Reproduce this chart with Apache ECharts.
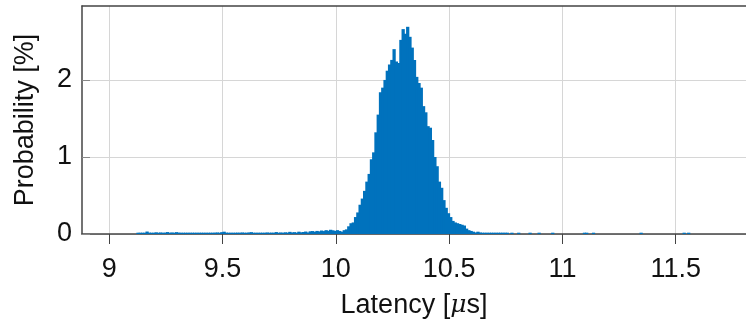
<!DOCTYPE html>
<html>
<head>
<meta charset="utf-8">
<script src="https://cdn.jsdelivr.net/npm/echarts@6/dist/echarts.min.js"></script>
<style>
  html, body { margin: 0; padding: 0; background: #fff; }
  #main { width: 746px; height: 321px; }
</style>
</head>
<body>
<div id="main"></div>
<script>
// histogram bins: left edge of first bin and bin width, in microseconds
const binStart = 9.10;
const binWidth = 0.01;

// probability [%] per bin, 9.10 .. 9.99
const probLow = [
  0, 0, .008, .01, .005, .012, .032, .018, .006, .01,
  .022, .015, .02, .008, .018, .025, .012, .02, .016, .024,
  .018, .01, .006, .004, .008, .01, .006, .012, .008, .01,
  .012, .008, .016, .01, .014, .012, .018, .02, .015, .024,
  .03, .018, .012, .016, .014, .01, .018, .012, .02, .01,
  .015, .02, .024, .016, .012, .008, .01, .014, .012, .02,
  .014, .018, .012, .025, .016, .02, .015, .022, .018, .028,
  .02, .024, .018, .03, .022, .026, .032, .02, .035, .038,
  .03, .04, .034, .045, .038, .05, .042, .055, .048, .04
];
// 10.00 .. 10.64
const probPeak = [
  .05, .04, .03, .05, .06, .10, .14, .15, .22, .28,
  .38, .46, .56, .68, .78, .97, 1.06, 1.32, 1.55, 1.84,
  1.90, 2.00, 2.12, 2.20, 2.26, 2.40, 2.24, 2.22, 2.52, 2.66,
  2.60, 2.69, 2.56, 2.42, 2.26, 2.04, 1.96, 1.90, 1.66, 1.58,
  1.40, 1.38, 1.22, 1.00, .88, .68, .60, .44, .34, .27,
  .22, .17, .15, .14, .13, .12, .11, .07, .05, .04,
  .03, .02, .03, .02, .01
];
// 10.65 .. 11.61
const probTail = [
  .015, .01, .008, .012, .006, .01, .005, .008, .004, .006,
  .005, 0, .004, 0, 0, .003, 0, 0, 0, 0,
  .006, 0, 0, 0, .005, 0, 0, 0, 0, 0,
  .006, 0, 0, 0, 0, 0, 0, 0, 0, 0,
  0, 0, 0, 0, .006, .004, 0, 0, .005, 0,
  0, 0, 0, 0, 0, 0, 0, 0, 0, 0,
  0, 0, 0, 0, 0, 0, 0, 0, 0, .005,
  0, 0, 0, 0, 0, 0, 0, 0, 0, 0,
  0, 0, 0, 0, 0, 0, 0, 0, .006, 0,
  .005, 0, 0, 0, 0, 0, 0
];

const xTicks = [9, 9.5, 10, 10.5, 11, 11.5];
const yTicks = [0, 1, 2];

const prob = probLow.concat(probPeak, probTail);
const bins = prob.map((v, i) => [+(binStart + i * binWidth).toFixed(2), v]);

const font = "'Liberation Sans', Arial, Helvetica, sans-serif";
const chart = echarts.init(document.getElementById('main'));

chart.setOption({
  animation: false,
  grid: { left: 82, right: 0, top: 6, bottom: 87, outerBoundsMode: 'none', containLabel: false },
  xAxis: [{
    type: 'value',
    min: 8.88,
    max: 11.81,
    name: '{n|Latency [}{m|\u03bc}{n|s]}',
    nameLocation: 'middle',
    nameGap: 58,
    nameTextStyle: {
      fontFamily: font, fontSize: 27, color: '#111',
      rich: {
        n: { fontFamily: font, fontSize: 27, color: '#111' },
        m: { fontFamily: "'DejaVu Serif', serif", fontStyle: 'italic', fontSize: 25, color: '#111' }
      }
    },
    axisLine: { show: true, onZero: false, lineStyle: { color: '#444', width: 1.5 } },
    axisTick: { show: true, inside: false, length: 10, customValues: xTicks, lineStyle: { color: '#444' } },
    axisLabel: { customValues: xTicks, fontFamily: font, fontSize: 27, color: '#111', margin: 22 },
    splitLine: { show: true, lineStyle: { color: '#d6d6d6', width: 1 } }
  }, {
    // top frame line
    type: 'value',
    position: 'top',
    min: 8.88,
    max: 11.81,
    axisLine: { show: true, onZero: false, lineStyle: { color: '#444', width: 1.5 } },
    axisTick: { show: false },
    axisLabel: { show: false },
    splitLine: { show: false }
  }],
  yAxis: {
    type: 'value',
    min: 0,
    max: 2.96,
    name: 'Probability [%]',
    nameLocation: 'middle',
    nameGap: 43,
    nameTextStyle: { fontFamily: font, fontSize: 27, color: '#111' },
    axisLine: { show: true, lineStyle: { color: '#444', width: 1.5 } },
    axisTick: { show: true, inside: true, length: 8, customValues: yTicks, lineStyle: { color: '#888' } },
    axisLabel: { customValues: yTicks, fontFamily: font, fontSize: 27, color: '#111', margin: 10 },
    splitLine: { show: true, lineStyle: { color: '#d6d6d6', width: 1 } }
  },
  series: [{
    type: 'custom',
    xAxisIndex: 0,
    data: bins,
    encode: { x: 0, y: 1 },
    clip: true,
    renderItem: function (params, api) {
      const x = api.value(0);
      const v = api.value(1);
      if (!v) return null;
      const p0 = api.coord([x, 0]);
      const p1 = api.coord([x + binWidth, v]);
      const h = Math.max(1.3, p0[1] - p1[1]);
      return {
        type: 'rect',
        shape: { x: p0[0], y: p0[1] - h, width: p1[0] - p0[0] + 1, height: h },
        style: { fill: '#0072BD' }
      };
    }
  }]
});
</script>
</body>
</html>
